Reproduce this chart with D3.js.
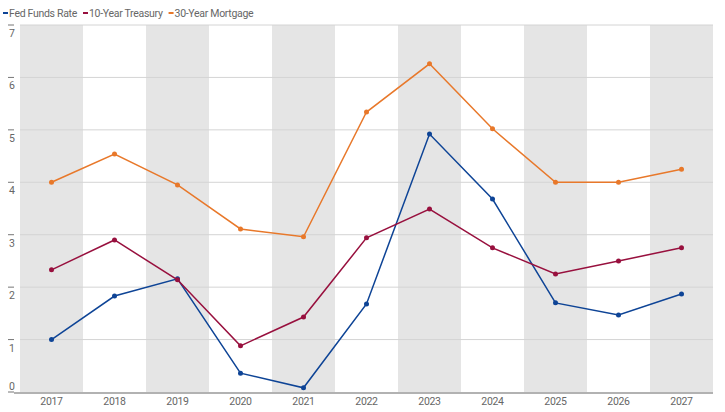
<!DOCTYPE html>
<html>
<head>
<meta charset="UTF-8" />
<style>
  body { margin: 0; background: #fff; }
  svg text { font-family: 'Roboto', sans-serif; fill: #666; font-size: 10.5px; letter-spacing: -0.3px; }
</style>
<script src="https://d3js.org/d3.v7.min.js"></script>
</head>
<body>
<div id="viz"></div>
<script>
  const width = 725, height = 412;

  // data
  const years = ['2017','2018','2019','2020','2021','2022','2023','2024','2025','2026','2027'];
  const fedFunds = [1.00, 1.83, 2.16, 0.36, 0.08, 1.68, 4.92, 3.68, 1.70, 1.47, 1.87];
  const treasury10 = [2.33, 2.90, 2.14, 0.88, 1.43, 2.94, 3.49, 2.75, 2.25, 2.50, 2.75];
  const mortgage30 = [4.00, 4.54, 3.95, 3.11, 2.96, 5.34, 6.26, 5.02, 4.00, 4.00, 4.25];
  const yTicks = [0, 1, 2, 3, 4, 5, 6, 7];

  const series = [
    { name: 'Fed Funds Rate', values: fedFunds, color: '#0e4496' },
    { name: '10-Year Treasury', values: treasury10, color: '#98103e' },
    { name: '30-Year Mortgage', values: mortgage30, color: '#e8782a' }
  ];

  const svg = d3.select('#viz').append('svg')
    .attr('width', width).attr('height', height);

  const x = d3.scaleBand().domain(years).range([20, 713]);
  const y = d3.scaleLinear().domain([0, 7]).range([392, 25]);

  // alternating bands
  svg.selectAll('.band')
    .data(years.filter((d, i) => i % 2 === 0))
    .enter().append('rect')
    .attr('x', d => x(d))
    .attr('y', y(7))
    .attr('width', x.bandwidth())
    .attr('height', y(0) - y(7))
    .attr('fill', '#e5e5e5');

  // gridlines
  svg.selectAll('.grid')
    .data(yTicks.filter(d => d > 0))
    .enter().append('line')
    .attr('x1', 20).attr('x2', 713)
    .attr('y1', d => y(d)).attr('y2', d => y(d))
    .attr('stroke', '#d4d4d4').attr('stroke-width', 1);

  // y ticks + labels (0 label sits above its tick)
  svg.selectAll('.ytick')
    .data(yTicks)
    .enter().append('line')
    .attr('x1', 8).attr('x2', 14)
    .attr('y1', d => y(d)).attr('y2', d => y(d))
    .attr('stroke', '#777').attr('stroke-width', 1);
  svg.selectAll('.ylabel')
    .data(yTicks)
    .enter().append('text')
    .attr('x', 9).attr('y', d => d === 0 ? y(d) - 2 : y(d) + 12)
    .text(d => d);

  // baseline
  svg.append('line')
    .attr('x1', 14).attr('x2', 713)
    .attr('y1', y(0) + 1).attr('y2', y(0) + 1)
    .attr('stroke', '#999').attr('stroke-width', 1.5);

  // x labels
  svg.selectAll('.xlabel')
    .data(years)
    .enter().append('text')
    .attr('x', d => x(d) + x.bandwidth() / 2)
    .attr('y', 405)
    .attr('text-anchor', 'middle')
    .text(d => d);

  // lines
  const line = d3.line()
    .x((d, i) => x(years[i]) + x.bandwidth() / 2)
    .y(d => y(d));

  series.forEach(s => {
    svg.append('path')
      .attr('d', line(s.values))
      .attr('fill', 'none')
      .attr('stroke', s.color)
      .attr('stroke-width', 1.5);
    svg.selectAll(null)
      .data(s.values)
      .enter().append('circle')
      .attr('cx', (d, i) => x(years[i]) + x.bandwidth() / 2)
      .attr('cy', d => y(d))
      .attr('r', 2.5)
      .attr('fill', s.color);
  });

  // legend
  let lx = 3;
  series.forEach(s => {
    svg.append('line')
      .attr('x1', lx).attr('x2', lx + 5)
      .attr('y1', 13).attr('y2', 13)
      .attr('stroke', s.color).attr('stroke-width', 2);
    const t = svg.append('text')
      .attr('x', lx + 6).attr('y', 17)
      .text(s.name);
    lx += 6 + t.node().getComputedTextLength() + 6;
  });
</script>
</body>
</html>
